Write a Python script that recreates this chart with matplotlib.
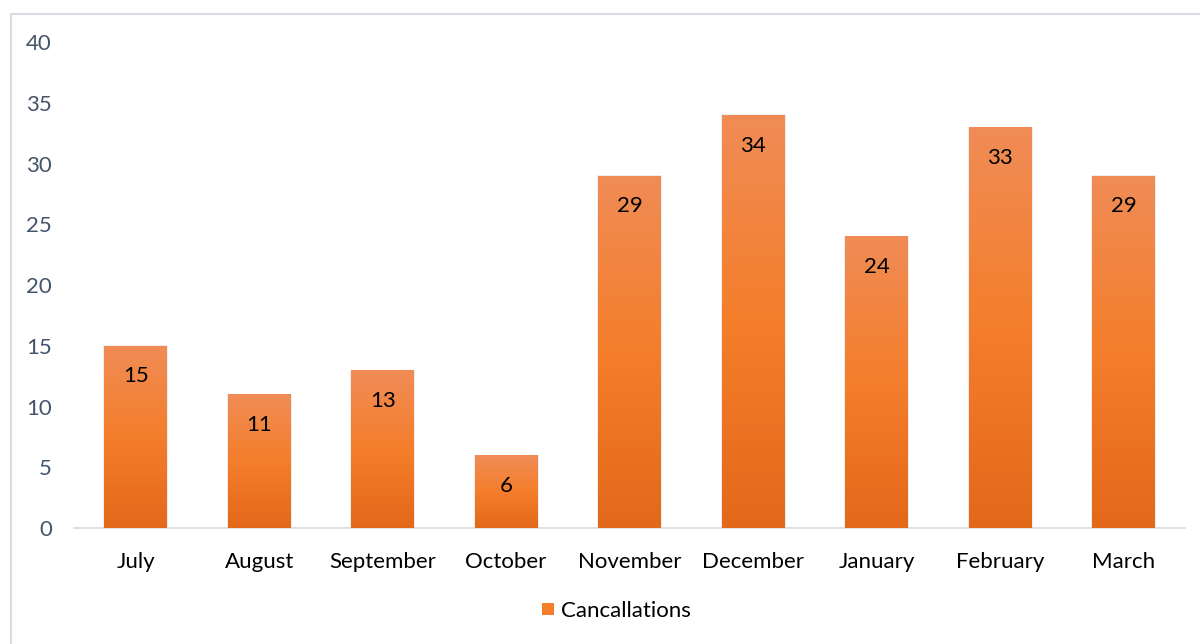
import numpy as np
import matplotlib.pyplot as plt
from matplotlib.colors import LinearSegmentedColormap
from matplotlib.patches import Rectangle, Patch

plt.rcParams["font.family"] = ["Lato", "DejaVu Sans"]

months = ["July", "August", "September", "October", "November",
          "December", "January", "February", "March"]
cancellations = [15, 11, 13, 6, 29, 34, 24, 33, 29]

bar_width = 0.51
grad = LinearSegmentedColormap.from_list(
    "bar", ["#E4681A", "#F47E2B", "#F08C56"])

fig = plt.figure(figsize=(12, 6.44), dpi=100)
# light frame round the chart area
fig.patches.append(Rectangle((11 / 1200, -0.1), 1.1, 1 - 14 / 644 + 0.1,
                             transform=fig.transFigure, fill=False,
                             edgecolor="#D9DDE3", lw=1.5))

ax = fig.add_axes([0.0617, 0.180, 0.926, 0.7547])
x = np.arange(len(months))
bars = ax.bar(x, cancellations, width=bar_width, color="none",
              edgecolor="none", zorder=2)

g = np.linspace(0, 1, 256).reshape(-1, 1)
for b, v in zip(bars, cancellations):
    x0 = b.get_x()
    # soft shadow
    ax.add_patch(Rectangle((x0 - 0.008, 0), bar_width + 0.016, v + 0.04,
                           color="#C8C8C8", alpha=0.3, lw=0, zorder=1))
    im = ax.imshow(g, cmap=grad, aspect="auto", origin="lower",
                   extent=(x0, x0 + bar_width, 0, v), zorder=2)
    im.set_clip_path(b)
    ax.annotate(str(v), (b.get_x() + bar_width / 2, v), xytext=(0, -22),
                textcoords="offset points", ha="center", va="center",
                fontsize=16, color="black", zorder=3)

ax.set_xlim(-0.5, len(months) - 0.5)
ax.set_ylim(0, 40)
ax.set_yticks(range(0, 41, 5))
ax.set_xticks(x)
ax.set_xticklabels(months)

for s in ["top", "right", "left"]:
    ax.spines[s].set_visible(False)
ax.spines["bottom"].set_color("#D9D9D9")
ax.spines["bottom"].set_linewidth(1.2)
ax.spines["bottom"].set_zorder(0)

ax.tick_params(axis="y", length=0, pad=16, labelsize=16, labelcolor="#44546A")
ax.tick_params(axis="x", length=0, pad=17, labelsize=16, labelcolor="black")

handle = Patch(facecolor="#F47E2B", edgecolor="none")
fig.legend([handle], ["Cancallations"], loc="center",
           bbox_to_anchor=(0.514, 1 - 611 / 644), frameon=False,
           fontsize=16, handlelength=0.5, handleheight=0.5,
           handletextpad=0.35)

fig.savefig("out.png", dpi=100)
